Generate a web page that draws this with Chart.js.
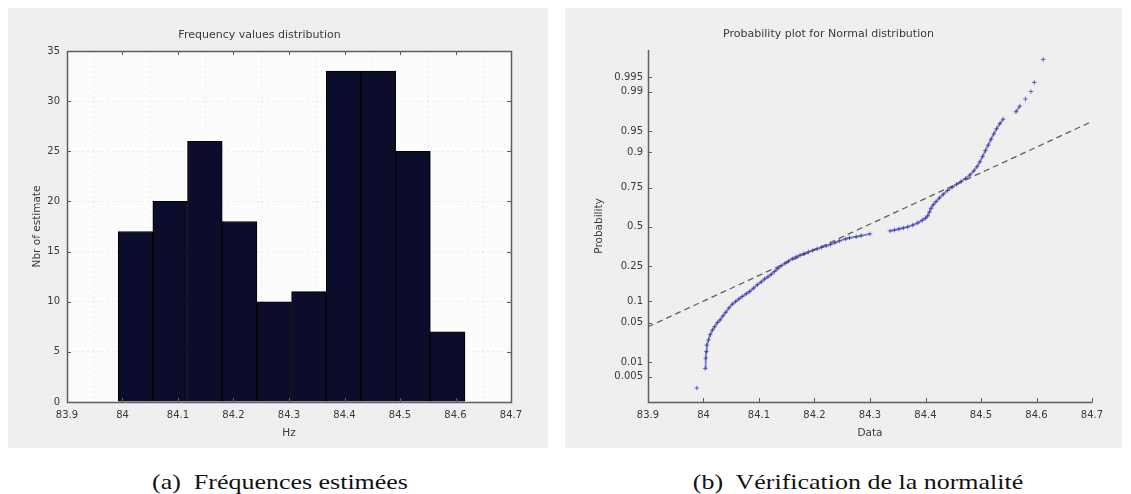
<!DOCTYPE html>
<html>
<head>
<meta charset="utf-8">
<script src="https://cdn.jsdelivr.net/npm/chart.js@4.4.1/dist/chart.umd.min.js"></script>
<style>
  html, body { margin: 0; padding: 0; background: #fff; }
  body { width: 1131px; height: 494px; position: relative; overflow: hidden; }
  canvas { position: absolute; background: #efefef; }
  #histChart { left: 8px; top: 8px; }
  #probChart { left: 565px; top: 8px; }
  .caption {
    position: absolute; top: 469px; line-height: 22px;
    font: 22px "Liberation Serif", "Times New Roman", serif; color: #111;
    white-space: nowrap; transform: translateX(-50%) scaleX(1.18);
  }
</style>
</head>
<body>
<canvas id="histChart" width="540" height="440"></canvas>
<canvas id="probChart" width="557" height="440"></canvas>
<div class="caption" style="left:280px">(a)&nbsp; Fréquences estimées</div>
<div class="caption" style="left:858px">(b)&nbsp; Vérification de la normalité</div>

<script>
// histogram of the frequency estimates (Hz)
const binCenters = [84.0234, 84.0859, 84.1484, 84.2109, 84.2734, 84.3359, 84.3984, 84.4609, 84.5234, 84.5859];
const binCounts = [17, 20, 26, 18, 10, 11, 33, 33, 25, 7];

// normal probability plot: sorted estimates and their plotting probabilities
const probX = [
  83.988, 84.003, 84.004, 84.005, 84.006, 84.009, 84.012, 84.016, 84.020, 84.025,
  84.030, 84.035, 84.040, 84.046, 84.052, 84.058, 84.064, 84.070, 84.077, 84.083,
  84.090, 84.097, 84.104, 84.110, 84.116, 84.122, 84.128, 84.134, 84.140, 84.147,
  84.153, 84.160, 84.167, 84.174, 84.181, 84.189, 84.197, 84.205, 84.213, 84.221,
  84.229, 84.237, 84.245, 84.256, 84.263, 84.275, 84.284, 84.300, 84.336, 84.344,
  84.352, 84.360, 84.368, 84.377, 84.386, 84.394, 84.400, 84.404, 84.407, 84.410,
  84.414, 84.419, 84.425, 84.432, 84.440, 84.448, 84.456, 84.464, 84.472, 84.480,
  84.487, 84.493, 84.498, 84.503, 84.508, 84.513, 84.518, 84.523, 84.528, 84.534,
  84.540, 84.563, 84.570, 84.580, 84.590, 84.596, 84.612
];
const probP = [
  0.0028, 0.0075, 0.012, 0.016, 0.021, 0.026, 0.032, 0.038, 0.043, 0.050,
  0.055, 0.063, 0.071, 0.082, 0.092, 0.100, 0.108, 0.116, 0.125, 0.133,
  0.146, 0.160, 0.172, 0.185, 0.195, 0.207, 0.222, 0.237, 0.252, 0.266,
  0.278, 0.292, 0.303, 0.313, 0.323, 0.333, 0.343, 0.353, 0.362, 0.372,
  0.382, 0.393, 0.405, 0.418, 0.425, 0.433, 0.440, 0.452, 0.472, 0.478,
  0.485, 0.492, 0.500, 0.512, 0.527, 0.545, 0.560, 0.575, 0.600, 0.625,
  0.648, 0.668, 0.690, 0.712, 0.735, 0.752, 0.768, 0.782, 0.797, 0.814,
  0.832, 0.850, 0.868, 0.887, 0.905, 0.920, 0.934, 0.945, 0.954, 0.962,
  0.968, 0.976, 0.981, 0.986, 0.990, 0.9935, 0.998
];

// fitted normal reference line, end points
const refLineX = [83.9, 84.7];
const refLineP = [0.043, 0.965];

const probTicks = [0.005, 0.01, 0.05, 0.1, 0.25, 0.5, 0.75, 0.9, 0.95, 0.99, 0.995];
const probLabels = ['0.005', '0.01', '0.05', '0.1', '0.25', '0.5', '0.75', '0.9', '0.95', '0.99', '0.995'];

const TEXT = '#3a3a3a';
const AXIS = '#5e5e5e';
const SANS = '"DejaVu Sans", sans-serif';

// inverse normal CDF (Acklam), used to put probabilities on a normal scale
function probit(p) {
  const a = [-39.69683028665376, 220.9460984245205, -275.9285104469687, 138.3577518672690, -30.66479806614716, 2.506628277459239];
  const b = [-54.47609879822406, 161.5858368580409, -155.6989798598866, 66.80131188771972, -13.28068155288572];
  const c = [-0.007784894002430293, -0.3223964580411365, -2.400758277161838, -2.549732539343734, 4.374664141464968, 2.938163982698783];
  const d = [0.007784695709041462, 0.3224671290700398, 2.445134137142996, 3.754408661907416];
  const pl = 0.02425;
  let q, r;
  if (p < pl) {
    q = Math.sqrt(-2 * Math.log(p));
    return (((((c[0] * q + c[1]) * q + c[2]) * q + c[3]) * q + c[4]) * q + c[5]) /
      ((((d[0] * q + d[1]) * q + d[2]) * q + d[3]) * q + 1);
  }
  if (p > 1 - pl) {
    q = Math.sqrt(-2 * Math.log(1 - p));
    return -(((((c[0] * q + c[1]) * q + c[2]) * q + c[3]) * q + c[4]) * q + c[5]) /
      ((((d[0] * q + d[1]) * q + d[2]) * q + d[3]) * q + 1);
  }
  q = p - 0.5;
  r = q * q;
  return (((((a[0] * r + a[1]) * r + a[2]) * r + a[3]) * r + a[4]) * r + a[5]) * q /
    (((((b[0] * r + b[1]) * r + b[2]) * r + b[3]) * r + b[4]) * r + 1);
}

const fmtX = (v) => Number(v.toFixed(1)).toString();

// white plot box behind the histogram
const areaFill = {
  id: 'areaFill',
  beforeDraw(chart) {
    const { ctx, chartArea: a } = chart;
    ctx.save();
    ctx.fillStyle = '#fcfcfc';
    ctx.fillRect(a.left, a.top, a.right - a.left, a.bottom - a.top);
    ctx.restore();
  },
};

// axis lines with tick marks pointing into the plot
const insideTicks = {
  id: 'insideTicks',
  afterDatasetsDraw(chart, args, opts) {
    const { ctx, chartArea: { left, right, top, bottom }, scales: { x, y } } = chart;
    const len = 4;
    ctx.save();
    ctx.strokeStyle = AXIS;
    ctx.lineWidth = 1;
    ctx.beginPath();
    x.ticks.forEach((t) => {
      const px = Math.round(x.getPixelForValue(t.value)) + 0.5;
      ctx.moveTo(px, bottom);
      ctx.lineTo(px, bottom - len);
      if (opts.box) {
        ctx.moveTo(px, top);
        ctx.lineTo(px, top + len);
      }
    });
    y.ticks.forEach((t) => {
      const py = Math.round(y.getPixelForValue(t.value)) + 0.5;
      ctx.moveTo(left, py);
      ctx.lineTo(left + len, py);
      if (opts.box) {
        ctx.moveTo(right, py);
        ctx.lineTo(right - len, py);
      }
    });
    ctx.stroke();
    ctx.lineWidth = 1.5;
    ctx.beginPath();
    ctx.moveTo(left + 0.5, top);
    ctx.lineTo(left + 0.5, bottom + 0.5);
    ctx.lineTo(right + 0.5, bottom + 0.5);
    if (opts.box) {
      ctx.lineTo(right + 0.5, top + 0.5);
      ctx.lineTo(left + 0.5, top + 0.5);
    }
    ctx.stroke();
    ctx.restore();
  },
};

const tickFont = { family: SANS, size: 10 };
const axisTitleFont = { family: SANS, size: 10.5 };
const titleFont = { family: SANS, size: 11, weight: 'normal' };

const xAxis = (label, grid) => ({
  type: 'linear',
  min: 83.9,
  max: 84.7,
  offset: false,
  afterFit: (s) => { s.height = 46; },
  ticks: { stepSize: 0.1, padding: 7, color: TEXT, font: tickFont, maxRotation: 0, autoSkip: false, callback: fmtX },
  grid: { display: grid, drawTicks: false, color: 'rgba(0,0,0,0.07)' },
  border: { display: false, dash: [2, 3] },
  title: { display: true, text: label, color: TEXT, font: axisTitleFont, padding: { top: 0, bottom: 8.7 } },
});

new Chart(document.getElementById('histChart'), {
  type: 'bar',
  data: {
    datasets: [
      {
        label: 'Nbr of estimate',
        data: binCenters.map((x, i) => ({ x, y: binCounts[i] })),
        backgroundColor: '#0c0c2b',
        borderColor: '#000',
        borderWidth: 1,
        barPercentage: 1,
        categoryPercentage: 1,
      },
    ],
  },
  options: {
    responsive: false,
    animation: false,
    layout: { padding: { left: 0, right: 37, top: 0, bottom: 0 } },
    plugins: {
      legend: { display: false },
      tooltip: { enabled: false },
      title: { display: true, text: 'Frequency values distribution', color: TEXT, font: titleFont, padding: { top: 21, bottom: 8.8 } },
      insideTicks: { box: true },
    },
    scales: {
      x: xAxis('Hz', true),
      y: {
        min: 0,
        max: 35,
        afterFit: (s) => { s.width = 59; },
        ticks: { stepSize: 5, padding: 7, color: TEXT, font: tickFont },
        grid: { drawTicks: false, color: 'rgba(0,0,0,0.07)' },
        border: { display: false, dash: [2, 3] },
        title: { display: true, text: 'Nbr of estimate', color: TEXT, font: axisTitleFont, padding: { top: 22.7, bottom: 0 } },
      },
    },
  },
  plugins: [areaFill, insideTicks],
});

// markers are joined only where they sit close together, so sparse stretches stay open
const denseSegment = (ctx) => {
  const dx = Math.abs(ctx.p1.x - ctx.p0.x);
  const dy = Math.abs(ctx.p1.y - ctx.p0.y);
  return dx + dy > 12 ? 'rgba(0,0,0,0)' : 'rgba(40,40,170,0.55)';
};

new Chart(document.getElementById('probChart'), {
  type: 'scatter',
  data: {
    datasets: [
      {
        label: 'Reference',
        data: refLineX.map((x, i) => ({ x, y: probit(refLineP[i]) })),
        showLine: true,
        borderColor: 'rgba(70,70,70,0.85)',
        borderWidth: 1.3,
        borderDash: [6, 4],
        pointRadius: 0,
      },
      {
        label: 'Data',
        data: probX.map((x, i) => ({ x, y: probit(probP[i]) })),
        showLine: true,
        borderWidth: 2,
        segment: { borderColor: denseSegment },
        pointStyle: 'cross',
        pointRadius: 2.3,
        pointBorderColor: 'rgba(45,45,180,0.7)',
        pointBorderWidth: 1,
      },
    ],
  },
  options: {
    responsive: false,
    animation: false,
    layout: { padding: { left: 0, right: 30, top: 0, bottom: 0 } },
    plugins: {
      legend: { display: false },
      tooltip: { enabled: false },
      title: { display: true, text: 'Probability plot for Normal distribution', color: TEXT, font: titleFont, padding: { top: 20, bottom: 8.8 } },
      insideTicks: { box: false },
    },
    scales: {
      x: xAxis('Data', false),
      y: {
        min: -3.01,
        max: 3.04,
        afterFit: (s) => { s.width = 83; },
        afterBuildTicks: (s) => { s.ticks = probTicks.map((p) => ({ value: probit(p) })); },
        ticks: { autoSkip: false, padding: 5, color: TEXT, font: tickFont, callback: (v, i) => probLabels[i] },
        grid: { display: false, drawTicks: false },
        border: { display: false },
        title: { display: true, text: 'Probability', color: TEXT, font: axisTitleFont, padding: { top: 27.7, bottom: 0 } },
      },
    },
  },
  plugins: [insideTicks],
});
</script>
</body>
</html>
